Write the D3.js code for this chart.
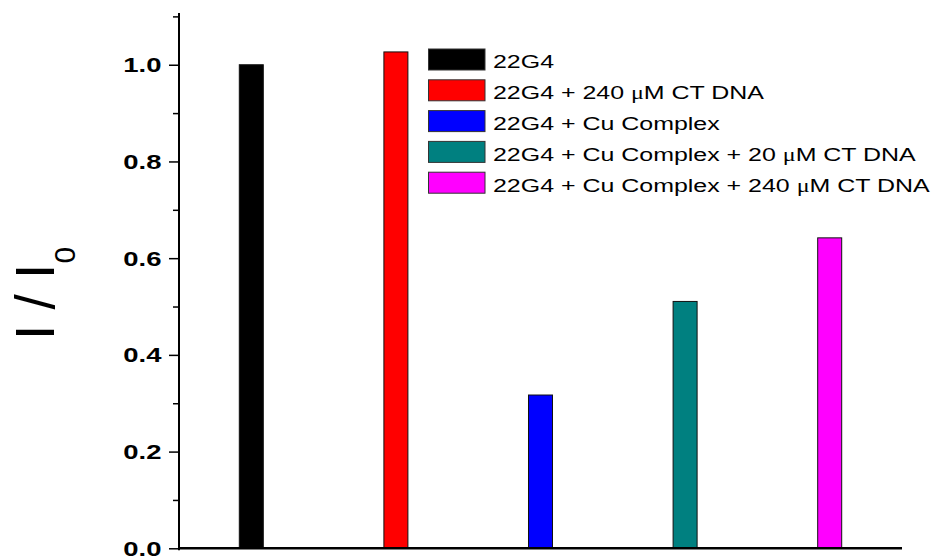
<!DOCTYPE html>
<html>
<head>
<meta charset="utf-8">
<script src="https://cdn.jsdelivr.net/npm/d3@7/dist/d3.min.js"></script>
<style>
  html, body { margin: 0; padding: 0; background: #fff; }
  svg { display: block; }
  text { font-family: "Liberation Sans", Arial, sans-serif; }
</style>
</head>
<body>
<svg id="chart" width="945" height="558"></svg>
<script>
// Samples, relative intensities and bar colours
const categories = [
  "22G4",
  "22G4 + 240 μM CT DNA",
  "22G4 + Cu Complex",
  "22G4 + Cu Complex + 20 μM CT DNA",
  "22G4 + Cu Complex + 240 μM CT DNA"
];
const values = [1.0, 1.0265, 0.317, 0.5105, 0.642];
const colors = ["#000000", "#ff0000", "#0000ff", "#008080", "#ff00ff"];
const majorTicks = [0.0, 0.2, 0.4, 0.6, 0.8, 1.0];
const minorTicks = [0.1, 0.3, 0.5, 0.7, 0.9, 1.1];

const svg = d3.select("#chart");
const plotLeft = 179, plotRight = 902, plotBottom = 548.3, plotTop = 13;

const x = d3.scaleBand()
  .domain(categories)
  .range([plotLeft, plotRight])
  .paddingInner(0.834)
  .paddingOuter(0.417);

const y = d3.scaleLinear()
  .domain([0, 1.107])
  .range([plotBottom, plotTop]);

// Bars
svg.append("g")
  .selectAll("rect")
  .data(categories)
  .join("rect")
  .attr("x", d => x(d))
  .attr("y", (d, i) => y(values[i]))
  .attr("width", x.bandwidth())
  .attr("height", (d, i) => y(0) - y(values[i]))
  .attr("fill", (d, i) => colors[i])
  .attr("stroke", "#111")
  .attr("stroke-width", 1);

// Minor ticks
const minorAxis = svg.append("g")
  .attr("transform", `translate(${plotLeft},0)`)
  .call(d3.axisLeft(y).tickValues(minorTicks).tickSize(6).tickSizeOuter(0).tickFormat(""));
minorAxis.select(".domain").remove();
minorAxis.selectAll("line").attr("stroke", "#000").attr("stroke-width", 1.5);

// Major ticks with bold labels
const majorAxis = svg.append("g")
  .attr("transform", `translate(${plotLeft},0)`)
  .call(d3.axisLeft(y).tickValues(majorTicks).tickSize(10).tickSizeOuter(0).tickFormat(d3.format(".1f")));
majorAxis.select(".domain").remove();
majorAxis.selectAll("line").attr("stroke", "#000").attr("stroke-width", 1.5);
majorAxis.selectAll("text")
  .attr("x", null)
  .attr("dy", null)
  .attr("transform", "translate(-17.5,7) scale(1.34,1)")
  .attr("fill", "#000")
  .style("font-family", "'Liberation Sans', Arial, sans-serif")
  .style("font-size", "20.5px")
  .style("font-weight", "bold");

// Axis lines
svg.append("line")
  .attr("x1", plotLeft).attr("x2", plotLeft)
  .attr("y1", plotTop).attr("y2", plotBottom + 2)
  .attr("stroke", "#000").attr("stroke-width", 2);
svg.append("line")
  .attr("x1", plotLeft).attr("x2", plotRight)
  .attr("y1", plotBottom).attr("y2", plotBottom)
  .attr("stroke", "#000").attr("stroke-width", 2.5);

// Y-axis title: I / I0
const title = svg.append("text")
  .attr("transform", "translate(53.5,340) rotate(-90)")
  .attr("text-anchor", "start")
  .style("font-size", "55px")
  .attr("fill", "#000");
title.append("tspan").text("I / I");
title.append("tspan").attr("dy", 21.5).style("font-size", "30px").text("0");

// Legend
const legend = svg.append("g");
const rowTop = i => 49 + i * 30.8;
legend.selectAll("rect")
  .data(categories)
  .join("rect")
  .attr("x", 428.5)
  .attr("y", (d, i) => rowTop(i))
  .attr("width", 56.5)
  .attr("height", 21)
  .attr("fill", (d, i) => colors[i])
  .attr("stroke", "#333")
  .attr("stroke-width", 1);
legend.selectAll("text")
  .data(categories)
  .join("text")
  .attr("transform", (d, i) => `translate(493,${rowTop(i) + 19.3}) scale(1.3,1)`)
  .style("font-size", "19.2px")
  .attr("fill", "#000")
  .each(function (d) {
    // the micro sign is set in a serif face, as in a symbol font
    const parts = d.split("μ");
    const t = d3.select(this);
    parts.forEach((p, k) => {
      if (k > 0) {
        t.append("tspan")
          .style("font-family", "'Liberation Serif', 'DejaVu Serif', serif")
          .style("font-size", "18.5px")
          .text("μ");
      }
      t.append("tspan").text(p);
    });
  });
</script>
</body>
</html>
